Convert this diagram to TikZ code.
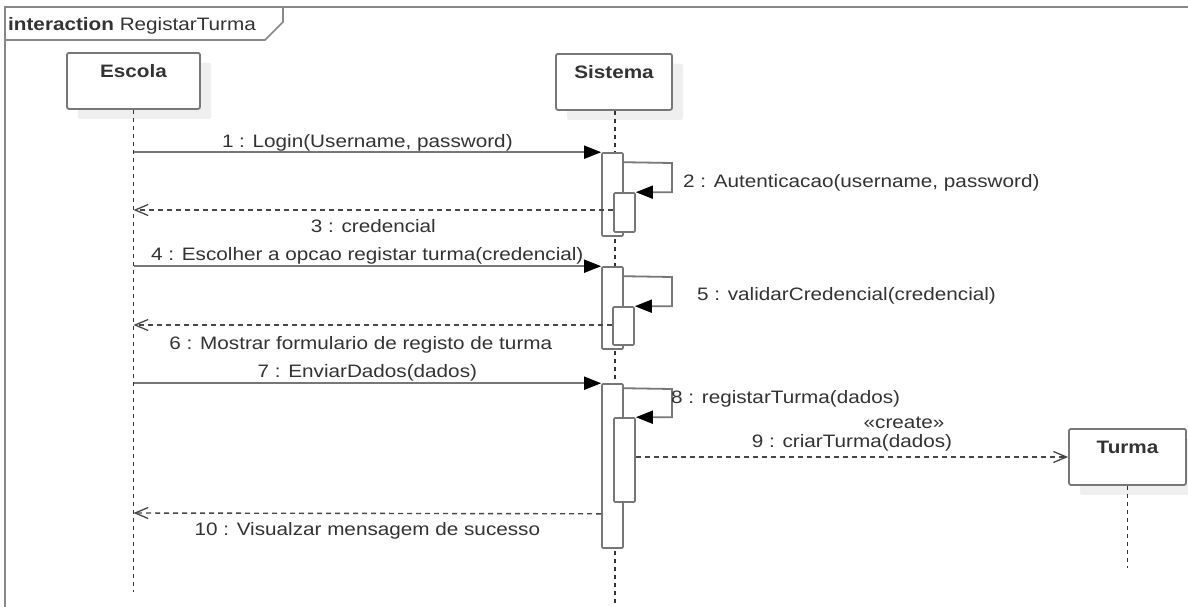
\documentclass[tikz,border=0pt]{standalone}
\usepackage{fontspec}
\setmainfont[FakeStretch=1.15]{Liberation Sans}
\usetikzlibrary{arrows.meta,shadows}
\definecolor{ink}{HTML}{333333}
\definecolor{edge}{HTML}{777777}
\definecolor{framec}{HTML}{888888}
\definecolor{shade}{HTML}{EFEFEF}
\tikzset{
  every node/.style={font=\fontsize{18}{21}\selectfont, text=ink},
  head/.style={draw=edge, line width=1.8pt, fill=white, rounded corners=2pt,
    anchor=north, inner xsep=0pt, inner ysep=6pt, text height=19pt, text depth=25pt,
    font=\fontsize{18}{21}\selectfont\bfseries,
    general shadow={fill=shade, shadow xshift=11pt, shadow yshift=-10pt}},
  lifeline/.style={draw=ink, line width=1.6pt, dash pattern=on 4pt off 4pt},
  actbar/.style={draw=edge, line width=1.6pt, fill=white, minimum width=21pt,
    inner sep=0pt, rounded corners=1pt},
  msg/.style={draw=edge, line width=1.8pt,
    -{Triangle[length=17pt,width=13pt,color=black,fill=black]}},
  ret/.style={draw=ink!90, line width=1.4pt, dash pattern=on 5pt off 4pt,
    -{Straight Barb[length=13pt,width=11pt,line width=1.3pt]}},
  lab/.style={anchor=base, inner sep=0pt},
}
\begin{document}
\begin{tikzpicture}[x=1pt,y=-1pt]
\clip (0,0) rectangle (1188,606);
\fill[white] (0,0) rectangle (1188,606);

% interaction frame and its name tab
\draw[framec, line width=1.8pt] (5,615) -- (5,7) -- (1195,7);
\draw[framec, line width=1.6pt] (5,40) -- (265,40) -- (283,22) -- (283,7);
\node[anchor=base west, inner sep=0pt] (frametitle) at (8,30)
  {\textbf{interaction} RegistarTurma};

% lifeline heads
\node[head, minimum width=133pt] (escola) at (133.5,52) {Escola};
\node[head, minimum width=116pt] (sistema) at (614,53) {Sistema};
\node[head, minimum width=117pt] (turma) at (1127.5,428) {Turma};

% lifelines
\draw[lifeline] (escola.south) -- ++(0,482);
\draw[lifeline] ([xshift=1pt]sistema.south) -- ++(0,520);
\draw[lifeline] (turma.south) -- ++(0,82);

% activation bars
\node[actbar, minimum height=83pt]  (act1)  at (612.5,194.5) {};
\node[actbar, minimum height=39pt]  (act1n) at (624.5,212.5) {};
\node[actbar, minimum height=82pt]  (act2)  at (612.5,308) {};
\node[actbar, minimum height=38pt]  (act2n) at (623.5,326) {};
\node[actbar, minimum height=164pt] (act3)  at (612.5,466) {};
\node[actbar, minimum height=84pt]  (act3n) at (624.5,460) {};

% 1-3: login
\draw[msg] (escola.south |- act1.north west) -- (act1.north west)
  node[lab, midway, yshift=5pt] (m1) {1 : Login(Username, password)};
\draw[msg] ([yshift=-10pt]act1.north east) -- (672,163) |- (act1n.north east);
\node[anchor=base west, inner sep=0pt] (m2) at (683,187) {2 : Autenticacao(username, password)};
\draw[ret] ([yshift=2.5pt]act1n.west) -- (escola.south |- 0,210)
  node[lab, midway, yshift=-22pt] (m3) {3 : credencial};

% 4-6: choose option
\draw[msg] (escola.south |- act2.north west) -- (act2.north west)
  node[lab, midway, yshift=6pt] (m4) {4 : Escolher a opcao registar turma(credencial)};
\draw[msg] ([yshift=-10pt]act2.north east) -- (672,277) |- (act2n.north east);
\node[anchor=base west, inner sep=0pt] (m5) at (697,300) {5 : validarCredencial(credencial)};
\draw[ret] ([yshift=1pt]act2n.west) -- (escola.south |- 0,325)
  node[lab, midway, xshift=-12pt, yshift=-24pt] (m6) {6 : Mostrar formulario de registo de turma};

% 7-10: send data and create class
\draw[msg] (escola.south |- act3.north west) -- (act3.north west)
  node[lab, midway, yshift=6pt] (m7) {7 : EnviarDados(dados)};
\draw[msg] ([yshift=-5pt]act3.north east) -- (672,389) |- (act3n.north east);
\node[anchor=base west, inner sep=0pt] (m8) at (671,403) {8 : registarTurma(dados)};
\draw[ret] (act3n.east |- 0,457) -- (turma.west |- 0,457)
  node[lab, midway, yshift=10pt] (m9) {9 : criarTurma(dados)};
\node[lab] (stereo) at (904,428) {«create»};
\draw[ret] ([yshift=35pt]act3.south west) -- (escola.south |- 0,513)
  node[lab, midway, yshift=-22pt] (m10) {10 : Visualzar mensagem de sucesso};
\end{tikzpicture}
\end{document}
